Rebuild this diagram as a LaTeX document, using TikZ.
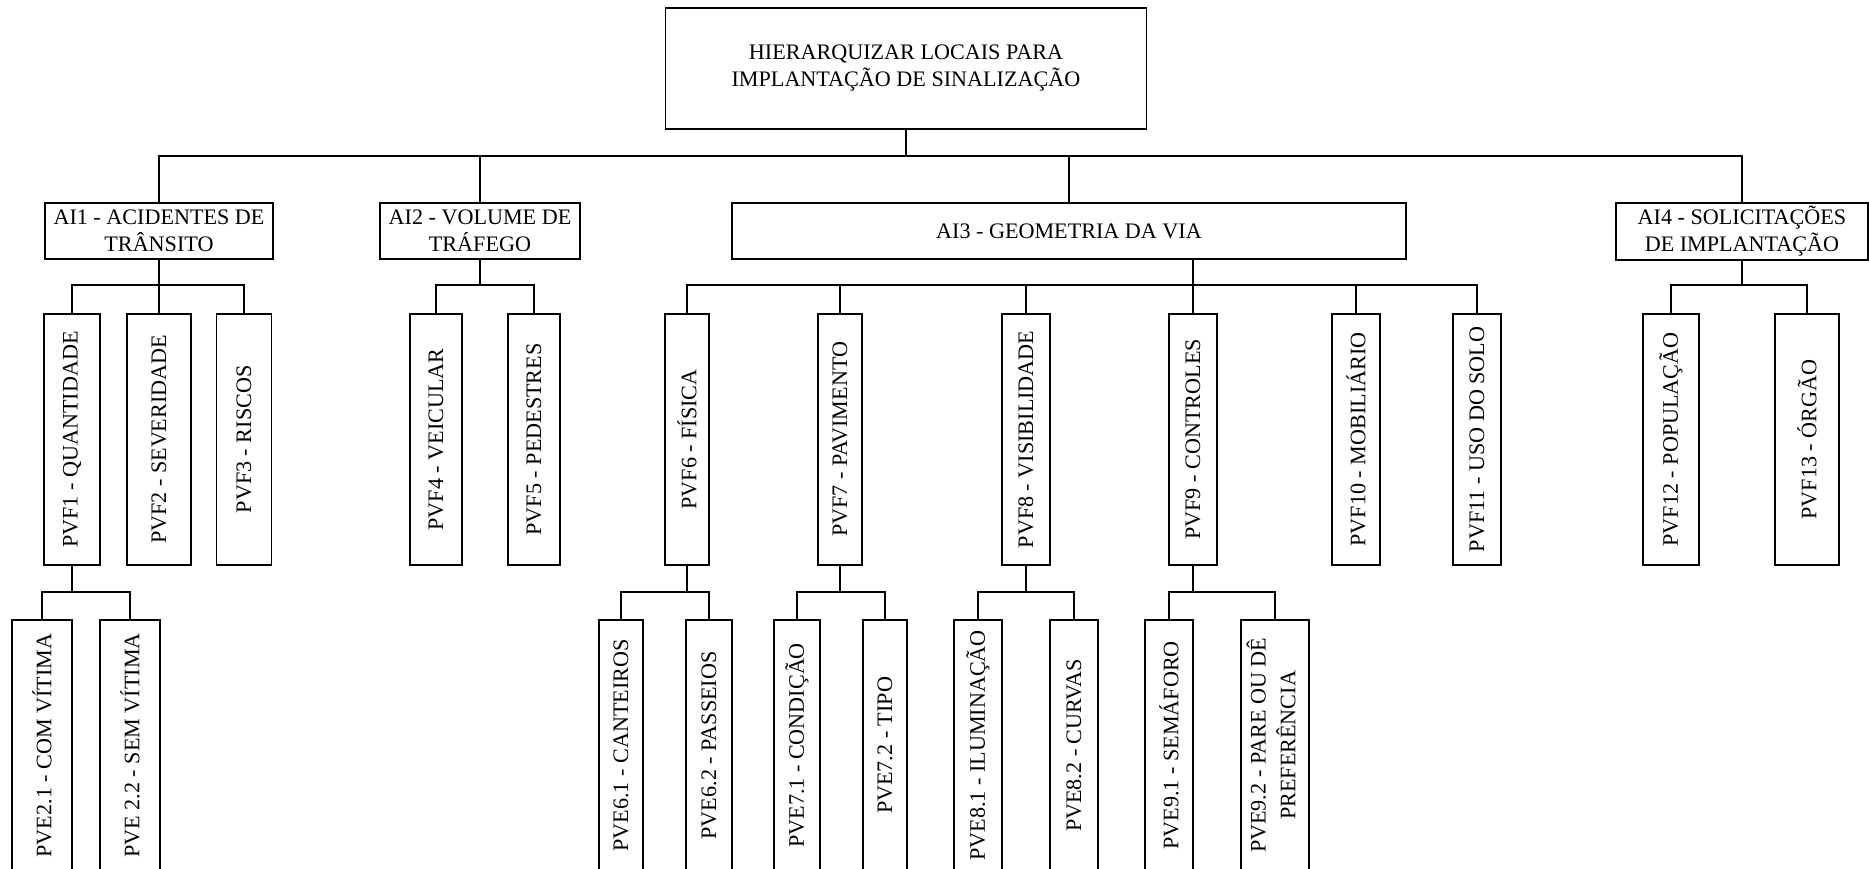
\documentclass[tikz,border=0pt]{standalone}
\usepackage{fontspec}
\setmainfont{Liberation Serif}
\usepackage{tikz}
\usetikzlibrary{calc}

\begin{document}
\begin{tikzpicture}[font=\fontsize{6.3}{7.6}\selectfont, line width=0.5pt,
  cbox/.style={draw, anchor=north, align=center, inner sep=1pt, minimum height=0.56cm},
  tallbox/.style={draw, anchor=north, inner sep=0pt, minimum height=2.51cm}]

\useasboundingbox (0,0) rectangle (18.69,-8.69);
\clip (0,0) rectangle (18.69,-8.69);

% ---------- goal (top) ----------
\node[cbox, minimum width=4.81cm, minimum height=1.21cm] (goal) at (9.06,-0.07)
  {HIERARQUIZAR LOCAIS PARA\\IMPLANTAÇÃO DE SINALIZAÇÃO};

% ---------- areas of interest ----------
\node[cbox, minimum width=2.28cm] (ai1) at (1.59,-2.02) {AI1 - ACIDENTES DE\\TRÂNSITO};
\node[cbox, minimum width=2.00cm] (ai2) at (4.80,-2.02) {AI2 - VOLUME DE\\TRÁFEGO};
\node[cbox, minimum width=6.74cm] (ai3) at (10.69,-2.02) {AI3 - GEOMETRIA DA VIA};
\node[cbox, minimum width=2.52cm] (ai4) at (17.42,-2.02) {AI4 - SOLICITAÇÕES\\DE IMPLANTAÇÃO};

% ---------- fundamental points of view ----------
\node[tallbox, minimum width=0.56cm]  (pvf1)  at (0.72,-3.13)  {\rotatebox{90}{PVF1 - QUANTIDADE}};
\node[tallbox, minimum width=0.64cm]  (pvf2)  at (1.59,-3.13)  {\rotatebox{90}{PVF2 - SEVERIDADE}};
\node[tallbox, minimum width=0.55cm]  (pvf3)  at (2.44,-3.13)  {\rotatebox{90}{PVF3 - RISCOS}};
\node[tallbox, minimum width=0.52cm]  (pvf4)  at (4.36,-3.13)  {\rotatebox{90}{PVF4 - VEICULAR}};
\node[tallbox, minimum width=0.52cm]  (pvf5)  at (5.34,-3.13)  {\rotatebox{90}{PVF5 - PEDESTRES}};
\node[tallbox, minimum width=0.445cm] (pvf6)  at (6.87,-3.13)  {\rotatebox{90}{PVF6 - FÍSICA}};
\node[tallbox, minimum width=0.445cm] (pvf7)  at (8.40,-3.13)  {\rotatebox{90}{PVF7 - PAVIMENTO}};
\node[tallbox, minimum width=0.48cm]  (pvf8)  at (10.26,-3.13) {\rotatebox{90}{PVF8 - VISIBILIDADE}};
\node[tallbox, minimum width=0.48cm]  (pvf9)  at (11.93,-3.13) {\rotatebox{90}{PVF9 - CONTROLES}};
\node[tallbox, minimum width=0.485cm] (pvf10) at (13.56,-3.13) {\rotatebox{90}{PVF10 - MOBILIÁRIO}};
\node[tallbox, minimum width=0.48cm]  (pvf11) at (14.77,-3.13) {\rotatebox{90}{PVF11 - USO DO SOLO}};
\node[tallbox, minimum width=0.56cm]  (pvf12) at (16.71,-3.13) {\rotatebox{90}{PVF12 - POPULAÇÃO}};
\node[tallbox, minimum width=0.645cm] (pvf13) at (18.07,-3.13) {\rotatebox{90}{PVF13 - ÓRGÃO}};

% ---------- elementary points of view (cut by the bottom edge) ----------
\node[tallbox, minimum width=0.60cm]  (pve21) at (0.42,-6.19)  {\rotatebox{90}{PVE2.1 - COM VÍTIMA}};
\node[tallbox, minimum width=0.60cm]  (pve22) at (1.30,-6.19)  {\rotatebox{90}{PVE 2.2 - SEM VÍTIMA}};
\node[tallbox, minimum width=0.445cm] (pve61) at (6.21,-6.19)  {\rotatebox{90}{PVE6.1 - CANTEIROS}};
\node[tallbox, minimum width=0.453cm] (pve62) at (7.09,-6.19)  {\rotatebox{90}{PVE6.2 - PASSEIOS}};
\node[tallbox, minimum width=0.455cm] (pve71) at (7.97,-6.19)  {\rotatebox{90}{PVE7.1 - CONDIÇÃO}};
\node[tallbox, minimum width=0.445cm] (pve72) at (8.85,-6.19)  {\rotatebox{90}{PVE7.2 - TIPO}};
\node[tallbox, minimum width=0.478cm] (pve81) at (9.78,-6.19)  {\rotatebox{90}{PVE8.1 - ILUMINAÇÃO}};
\node[tallbox, minimum width=0.478cm] (pve82) at (10.74,-6.19) {\rotatebox{90}{PVE8.2 - CURVAS}};
\node[tallbox, minimum width=0.478cm] (pve91) at (11.69,-6.19) {\rotatebox{90}{PVE9.1 - SEMÁFORO}};
\node[tallbox, minimum width=0.68cm]  (pve92) at (12.75,-6.19)
  {\rotatebox{90}{\begin{tabular}{@{}c@{}}PVE9.2 - PARE OU DÊ\\[0.8pt]PREFERÊNCIA\end{tabular}}};

% ---------- tree connectors ----------
\coordinate (bus0) at (0,-1.56);
\coordinate (bus1) at (0,-2.85);
\coordinate (bus2) at (0,-5.92);

\foreach \c in {ai1,ai2,ai3,ai4}{
  \draw (goal.south) |- (bus0 -| \c.north) -- (\c.north);}
\foreach \c in {pvf1,pvf2,pvf3}{
  \draw (ai1.south) |- (bus1 -| \c.north) -- (\c.north);}
\foreach \c in {pvf4,pvf5}{
  \draw (ai2.south) |- (bus1 -| \c.north) -- (\c.north);}
\foreach \c in {pvf6,pvf7,pvf8,pvf9,pvf10,pvf11}{
  \draw (ai3.south -| pvf9.north) |- (bus1 -| \c.north) -- (\c.north);}
\foreach \c in {pvf12,pvf13}{
  \draw (ai4.south) |- (bus1 -| \c.north) -- (\c.north);}

\foreach \c in {pve21,pve22}{
  \draw (pvf1.south) |- (bus2 -| \c.north) -- (\c.north);}
\foreach \c in {pve61,pve62}{
  \draw (pvf6.south) |- (bus2 -| \c.north) -- (\c.north);}
\foreach \c in {pve71,pve72}{
  \draw (pvf7.south) |- (bus2 -| \c.north) -- (\c.north);}
\foreach \c in {pve81,pve82}{
  \draw (pvf8.south) |- (bus2 -| \c.north) -- (\c.north);}
\foreach \c in {pve91,pve92}{
  \draw (pvf9.south) |- (bus2 -| \c.north) -- (\c.north);}
\end{tikzpicture}
\end{document}
